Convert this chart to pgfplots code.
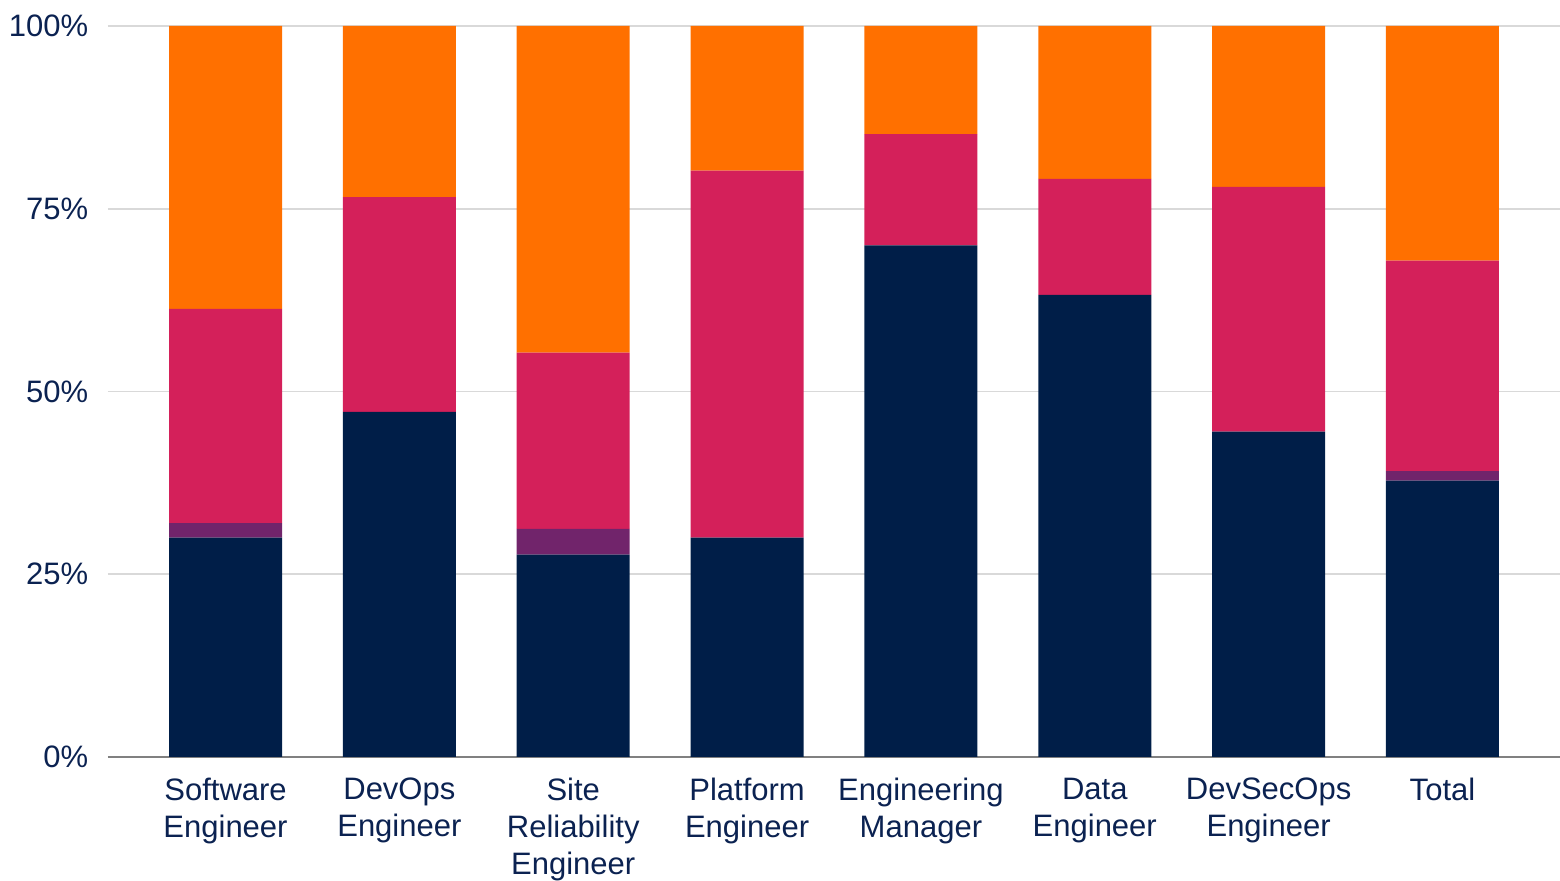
\documentclass[border=0pt]{standalone}
\usepackage{pgfplots}
\pgfplotsset{compat=1.18}
\usepackage{fontspec}
\setmainfont{Liberation Sans}
\definecolor{cnavy}{HTML}{001E48}
\definecolor{cpurple}{HTML}{71246B}
\definecolor{cred}{HTML}{D4205A}
\definecolor{corange}{HTML}{FF7000}
\definecolor{ctext}{HTML}{0B2251}
\begin{document}
\begin{tikzpicture}
\useasboundingbox (-32.4pt,-37.2pt) rectangle (435.6pt,227.1pt);
\begin{axis}[
    scale only axis,
    width=435.6pt, height=219.3pt,
    ybar stacked,
    bar width=33.9pt,
    xmin=-0.676, xmax=7.676,
    ymin=0, ymax=100,
    xtick=data,
    xticklabels={Software\\Engineer, DevOps\\Engineer, Site\\Reliability\\Engineer, Platform\\Engineer, Engineering\\Manager, Data\\Engineer, DevSecOps\\Engineer, Total},
    ytick={0,25,50,75,100},
    yticklabel={\pgfmathprintnumber{\tick}\%},
    /pgf/number format/assume math mode=true,
    major tick length=0pt,
    axis x line*=bottom,
    axis y line*=left,
    x axis line style={draw=black!50, line width=0.6pt},
    y axis line style={draw=none},
    ymajorgrids,
    grid style={draw=black!15, line width=0.5pt},
    ticklabel style={font=\fontsize{9.3}{11.1}\selectfont, text=ctext},
    xticklabel style={align=center, yshift=-2.8pt},
    yticklabel style={xshift=-2.4pt},
    every axis plot/.append style={draw=none},
]
\addplot[fill=cnavy] coordinates {(0,30) (1,47.2) (2,27.7) (3,30) (4,70) (5,63.2) (6,44.5) (7,37.8)};
\addplot[fill=cpurple] coordinates {(0,2) (1,0) (2,3.5) (3,0) (4,0) (5,0) (6,0) (7,1.3)};
\addplot[fill=cred] coordinates {(0,29.3) (1,29.4) (2,24.1) (3,50.2) (4,15.2) (5,15.9) (6,33.5) (7,28.8)};
\addplot[fill=corange] coordinates {(0,38.7) (1,23.4) (2,44.7) (3,19.8) (4,14.8) (5,20.9) (6,22.0) (7,32.1)};
\end{axis}
\end{tikzpicture}
\end{document}
